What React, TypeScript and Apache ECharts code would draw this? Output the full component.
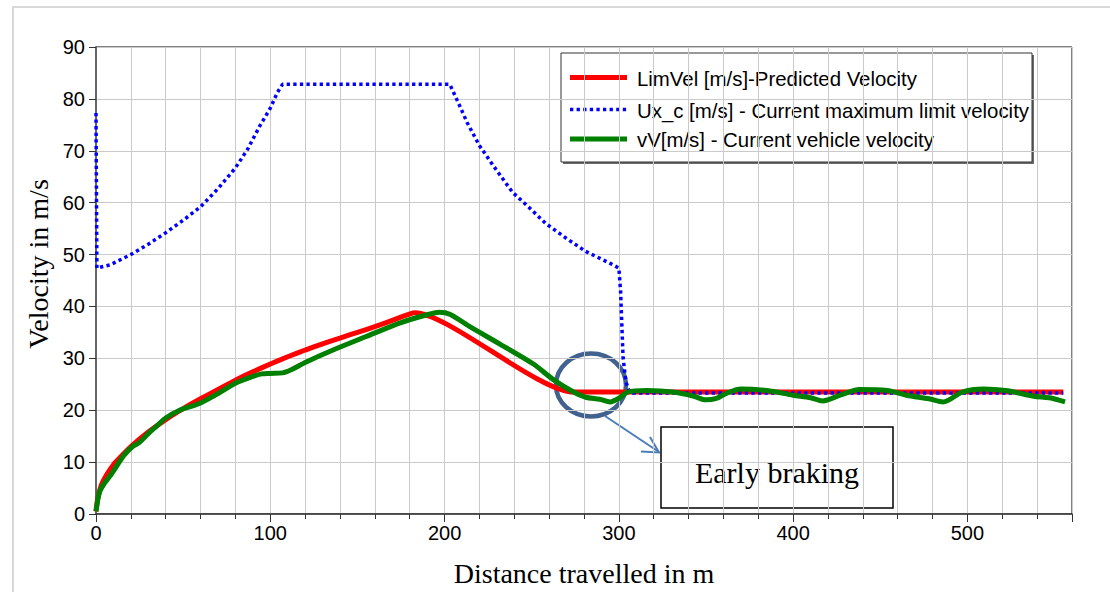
import React, { useEffect, useRef } from "react";
import * as echarts from "echarts";

// LimVel [m/s] - predicted velocity profile
const limVelDist = [0, 1, 3, 6, 10, 15, 20, 30, 40, 50, 60, 70, 80, 90, 100, 110, 120, 130, 140, 150, 160, 170, 183, 274, 555];
const limVelSpeed = [0.5, 3, 5.5, 7.5, 9.5, 11.3, 13, 15.8, 18.2, 20.3, 22.2, 24, 25.8, 27.4, 28.9, 30.3, 31.6, 32.8, 33.9, 35, 36.1, 37.3, 38.8, 23.5, 23.5];

// Ux_c [m/s] - current maximum limit velocity
const limitDist = [0, 0.5, 8, 20, 30, 40, 50, 60, 70, 80, 87, 94, 100, 104, 107, 203, 207, 213, 220, 228, 239, 249, 258, 270, 281, 295, 300, 301, 302.4, 304, 306, 308, 555];
const limitSpeed = [77.3, 47.4, 48, 50, 52, 54.2, 56.6, 59.2, 62.7, 66.7, 70.3, 74.8, 78.2, 81.2, 82.8, 82.8, 79.9, 75.4, 71, 67.1, 62, 58.9, 56, 53.1, 50.6, 48.3, 47.4, 42.9, 30.2, 25.5, 23.6, 23.3, 23.3];

// vV [m/s] - measured vehicle velocity
const vehicleDist = [0, 2, 5, 8, 12, 16, 21, 25, 30, 35, 40, 48, 55, 60, 70, 80, 90, 95, 100, 107, 112, 120, 136, 155, 175, 190, 197, 203, 215, 232, 251, 262, 274, 281, 289, 295, 300, 305, 316, 331, 343, 350, 356, 362, 370, 385, 400, 410, 417, 427, 438, 454, 465, 478, 486, 497, 509, 522, 538, 547, 556];
const vehicleSpeed = [0.5, 4.2, 6, 7.3, 9.3, 11.3, 13, 13.8, 15.5, 17, 18.5, 20, 20.8, 21.4, 23.2, 25.2, 26.5, 27, 27.1, 27.2, 27.8, 29.2, 31.6, 34.2, 36.9, 38.4, 38.9, 38.5, 36, 32.7, 28.9, 26, 23.5, 22.5, 22.1, 21.6, 22.3, 23.5, 23.8, 23.5, 22.7, 22, 22.3, 23.3, 24.1, 23.8, 22.9, 22.4, 21.8, 22.9, 24, 23.8, 22.9, 22.2, 21.6, 23.5, 24.1, 23.8, 22.7, 22.4, 21.6];

const seriesNames = [
  "LimVel [m/s]-Predicted Velocity",
  "Ux_c [m/s] - Current maximum limit velocity",
  "vV[m/s] - Current vehicle velocity",
];
const seriesColors = ["#ff0000", "#0000ff", "#008000"];

const SANS = '"Liberation Sans", Arial, sans-serif';
const SERIF = '"Liberation Serif", "Times New Roman", serif';

const zip = (xs: number[], ys: number[]) => xs.map((x, i) => [x, ys[i]]);

export default function App() {
  const ref = useRef<HTMLDivElement>(null);

  useEffect(() => {
    if (!ref.current) return;
    const chart = echarts.init(ref.current, null, { renderer: "svg" });

    const legendRows = [77.5, 109.5, 139];

    chart.setOption({
      animation: false,
      backgroundColor: "#ffffff",
      grid: {
        left: 96,
        width: 976,
        top: 47,
        height: 471,
        show: true,
        borderColor: "#000",
        borderWidth: 1,
        backgroundColor: "transparent",
      },
      xAxis: [
        {
          type: "value",
          min: 0,
          max: 560,
          interval: 20,
          axisLine: { lineStyle: { color: "#333", width: 1.5 } },
          axisTick: { length: 5, lineStyle: { color: "#333" } },
          axisLabel: {
            formatter: (v: number) => (v % 100 === 0 ? String(v) : ""),
            fontSize: 20,
            color: "#000",
            margin: 9,
            fontFamily: SANS,
          },
          splitLine: { show: true, lineStyle: { color: "#cacaca", width: 1 } },
          name: "Distance travelled in m",
          nameLocation: "middle",
          nameGap: 45,
          nameTextStyle: { fontFamily: SERIF, fontSize: 28, color: "#000" },
        },
        {
          // longer ticks at every 100 m
          type: "value",
          position: "bottom",
          min: 0,
          max: 560,
          interval: 100,
          axisLine: { show: false },
          axisTick: { length: 8, lineStyle: { color: "#333" } },
          axisLabel: { show: false },
          splitLine: { show: false },
        },
      ],
      yAxis: {
        type: "value",
        min: 0,
        max: 90,
        interval: 10,
        axisLine: { show: true, lineStyle: { color: "#666", width: 2 } },
        axisTick: { show: true, length: 7, lineStyle: { color: "#333" } },
        axisLabel: { fontSize: 20, color: "#000", margin: 11, fontFamily: SANS },
        splitLine: { show: true, lineStyle: { color: "#cacaca", width: 1 } },
      },
      series: [
        {
          name: seriesNames[0],
          type: "line",
          data: zip(limVelDist, limVelSpeed),
          showSymbol: false,
          symbol: "none",
          smooth: 0.2,
          z: 2,
          lineStyle: { color: seriesColors[0], width: 5 },
        },
        {
          name: seriesNames[1],
          type: "line",
          data: zip(limitDist, limitSpeed),
          showSymbol: false,
          symbol: "none",
          z: 3,
          lineStyle: { color: seriesColors[1], width: 3.5, type: [3.3, 3.3], cap: "butt" },
        },
        {
          name: seriesNames[2],
          type: "line",
          data: zip(vehicleDist, vehicleSpeed),
          showSymbol: false,
          symbol: "none",
          smooth: 0.3,
          z: 4,
          lineStyle: { color: seriesColors[2], width: 5 },
        },
      ],
      graphic: [
        // outer light frame
        {
          type: "rect",
          z: 0,
          silent: true,
          shape: { x: 13, y: 7, width: 1110, height: 620 },
          style: { fill: "none", stroke: "#d9d9d9", lineWidth: 2 },
        },
        // y axis title
        {
          type: "text",
          x: 38,
          y: 264,
          rotation: Math.PI / 2,
          z: 50,
          style: {
            text: "Velocity in m/s",
            font: `28px ${SERIF}`,
            fill: "#000",
            textAlign: "center",
            textVerticalAlign: "middle",
          },
        },
        // legend
        {
          type: "group",
          z: 100,
          children: [
            { type: "rect", shape: { x: 563, y: 55, width: 471, height: 109 }, style: { fill: "#6a6a6a" } },
            {
              type: "rect",
              shape: { x: 561, y: 53, width: 471, height: 109 },
              style: { fill: "#fff", stroke: "#333", lineWidth: 1 },
            },
            {
              type: "line",
              shape: { x1: 570, y1: legendRows[0], x2: 627, y2: legendRows[0] },
              style: { stroke: seriesColors[0], lineWidth: 5 },
            },
            {
              type: "line",
              shape: { x1: 570, y1: legendRows[1], x2: 627, y2: legendRows[1] },
              style: { stroke: seriesColors[1], lineWidth: 3.5, lineDash: [3.3, 3.3] },
            },
            {
              type: "line",
              shape: { x1: 570, y1: legendRows[2], x2: 627, y2: legendRows[2] },
              style: { stroke: seriesColors[2], lineWidth: 5 },
            },
            ...seriesNames.map((name, i) => ({
              type: "text",
              x: 637,
              y: legendRows[i] + 1,
              style: {
                text: name,
                font: `20.4px ${SANS}`,
                fill: "#000",
                textAlign: "left",
                textVerticalAlign: "middle",
              },
            })),
          ],
        },
        // early braking annotation
        {
          type: "group",
          z: 100,
          children: [
            {
              type: "ellipse",
              shape: { cx: 591, cy: 385, rx: 35, ry: 31.5 },
              style: { fill: "none", stroke: "#41618e", lineWidth: 4.5 },
            },
            {
              type: "line",
              shape: { x1: 605, y1: 416, x2: 659, y2: 452 },
              style: { stroke: "#4a7ebb", lineWidth: 2 },
            },
            {
              type: "polyline",
              shape: { points: [[641, 451.5], [659, 452.5], [650, 437]] },
              style: { fill: "none", stroke: "#4a7ebb", lineWidth: 2 },
            },
            {
              type: "rect",
              shape: { x: 661, y: 427, width: 232, height: 81 },
              style: { fill: "#fff", stroke: "#000", lineWidth: 1.5 },
            },
            {
              type: "text",
              x: 777,
              y: 472,
              style: {
                text: "Early braking",
                font: `30px ${SERIF}`,
                fill: "#000",
                textAlign: "center",
                textVerticalAlign: "middle",
              },
            },
          ],
        },
      ],
    });

    return () => chart.dispose();
  }, []);

  return (
    <div
      ref={ref}
      style={{ position: "fixed", left: 0, top: 0, width: 1110, height: 592, background: "#fff" }}
    />
  );
}
